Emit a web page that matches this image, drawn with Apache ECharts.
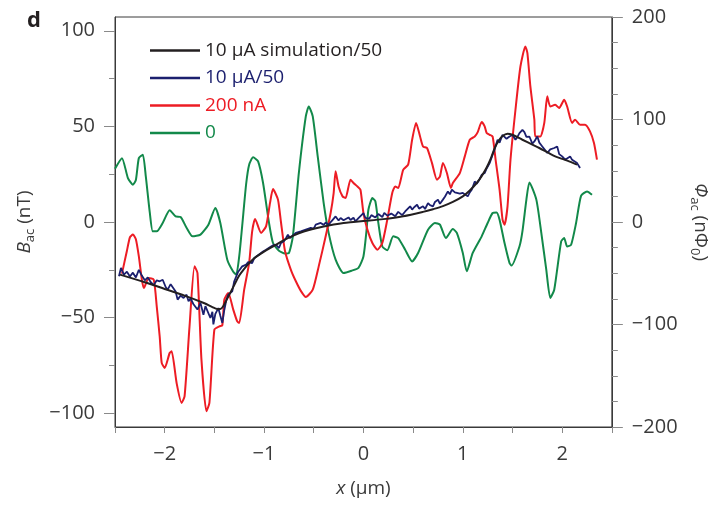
<!DOCTYPE html>
<html><head><meta charset="utf-8">
<script src="https://cdn.jsdelivr.net/npm/echarts@6/dist/echarts.min.js"></script>
<style>html,body{margin:0;padding:0;background:#fff}#c{width:718px;height:506px}</style>
</head><body><div id="c"></div>
<script>
// ---- data (x in µm, B in nT) ----
const seriesNames = ['10 μA simulation/50', '10 μA/50', '200 nA', '0'];
const xTicks = [-2, -1, 0, 1, 2];
const leftTicks = [-100, -50, 0, 50, 100];
const rightTicks = [-200, -100, 0, 100, 200];

const simulation = [[-2.45,-27.5],[-2.2,-31.5],[-2.0,-35],[-1.8,-38.5],[-1.6,-42.5],[-1.52,-44.5],[-1.47,-45.5],[-1.44,-45.5],[-1.41,-44],[-1.38,-41],[-1.35,-38],[-1.30,-33],[-1.25,-28],[-1.2,-24.5],[-1.15,-21.5],[-1.1,-19],[-1.0,-15.5],[-0.9,-12.5],[-0.8,-9.5],[-0.7,-7],[-0.6,-5],[-0.5,-3.5],[-0.4,-2.3],[-0.3,-1.3],[-0.2,-0.5],[-0.1,0],[0,0.5],[0.2,1.5],[0.4,3],[0.6,5.3],[0.7,6.7],[0.8,8.3],[0.9,10.5],[1.0,13.4],[1.07,16.5],[1.14,20.4],[1.19,24],[1.24,28.5],[1.28,33],[1.32,38.5],[1.36,42.5],[1.40,45],[1.45,46.2],[1.50,45.6],[1.60,43],[1.70,40.5],[1.77,38.7],[1.85,36.5],[1.93,34.3],[2.0,33],[2.07,31.7],[2.15,30]];

const measured10uA = [[-2.46,-28.4],[-2.44,-24],[-2.41,-27.5],[-2.38,-26],[-2.35,-28.5],[-2.32,-26.5],[-2.29,-29],[-2.26,-25],[-2.23,-28],[-2.20,-30.5],[-2.17,-29],[-2.14,-31.5],[-2.11,-33],[-2.08,-30.5],[-2.05,-31],[-2.02,-30.2],[-1.99,-34],[-1.97,-35.4],[-1.94,-32.5],[-1.92,-31.9],[-1.89,-36.3],[-1.87,-40.6],[-1.84,-38.5],[-1.81,-39.7],[-1.78,-38],[-1.76,-41.5],[-1.74,-40],[-1.71,-43],[-1.69,-44],[-1.67,-45.8],[-1.64,-42.3],[-1.61,-48.5],[-1.59,-44],[-1.57,-45],[-1.54,-50.2],[-1.52,-47],[-1.51,-53.5],[-1.49,-48],[-1.46,-45],[-1.44,-49],[-1.42,-52.8],[-1.40,-46],[-1.38,-41],[-1.36,-38],[-1.34,-39],[-1.32,-36.3],[-1.30,-31],[-1.28,-30],[-1.26,-26],[-1.24,-25],[-1.22,-23.2],[-1.20,-23.5],[-1.18,-22.3],[-1.16,-21],[-1.14,-20.6],[-1.12,-21.5],[-1.10,-19],[-1.08,-18],[-1.05,-17],[-1.03,-17.5],[-1.01,-15.4],[-0.98,-14.5],[-0.96,-15.5],[-0.93,-12.8],[-0.90,-11.9],[-0.87,-12.5],[-0.85,-13.6],[-0.83,-11],[-0.80,-10],[-0.78,-8.5],[-0.76,-6.6],[-0.74,-8.4],[-0.71,-7],[-0.68,-5.7],[-0.66,-6.2],[-0.63,-4.9],[-0.61,-5.5],[-0.58,-4.0],[-0.56,-4.6],[-0.53,-3.1],[-0.50,-3.5],[-0.48,-1.4],[-0.46,-2.2],[-0.43,-0.5],[-0.40,-1.5],[-0.38,-0.3],[-0.35,-1.4],[-0.32,0.5],[-0.30,1.5],[-0.28,2.9],[-0.25,0.8],[-0.23,2.1],[-0.20,0.9],[-0.18,1.2],[-0.15,2.4],[-0.13,1.0],[-0.10,2.2],[-0.08,0.3],[-0.05,2.0],[-0.03,1.5],[0.00,4.7],[0.02,2.1],[0.04,2.9],[0.06,1.8],[0.08,3.6],[0.10,3.8],[0.12,2.4],[0.15,4.2],[0.17,3.8],[0.19,2.6],[0.21,4.8],[0.24,3.3],[0.26,2.5],[0.28,4.4],[0.30,3.8],[0.32,3.0],[0.35,5.3],[0.37,4.7],[0.39,3.6],[0.42,5.5],[0.44,4.6],[0.47,8.2],[0.49,6.5],[0.51,7.7],[0.54,9.0],[0.56,7.0],[0.58,7.6],[0.60,8.2],[0.62,6.8],[0.65,9.9],[0.67,8.8],[0.70,8.2],[0.72,10.5],[0.75,11.7],[0.77,9.5],[0.80,11.7],[0.82,13.2],[0.85,16.0],[0.87,14.5],[0.89,16.9],[0.92,15.5],[0.94,16.0],[0.97,14.8],[1.00,15.2],[1.02,14.5],[1.05,13.4],[1.07,15.5],[1.09,16.9],[1.12,21.2],[1.14,20.0],[1.17,22.5],[1.19,24.7],[1.22,25.6],[1.24,28],[1.27,30.8],[1.30,35.2],[1.32,38],[1.35,43],[1.37,41.5],[1.40,45.6],[1.42,46.5],[1.44,43.5],[1.47,44.7],[1.50,45.5],[1.53,43],[1.55,44.5],[1.57,46.5],[1.60,48.2],[1.62,47],[1.64,44.5],[1.67,44.7],[1.70,41],[1.72,42.1],[1.75,44.7],[1.77,41.5],[1.80,39.5],[1.83,37.5],[1.85,36.1],[1.88,38],[1.90,37],[1.92,38.7],[1.95,39.5],[1.97,35.5],[2.00,34.3],[2.03,32.6],[2.05,33.5],[2.08,34.3],[2.10,32.5],[2.12,33.5],[2.15,30.8],[2.18,28.2]];

const measured200nA = [[-2.43,-27],[-2.38,-15],[-2.35,-8],[-2.32,-6.6],[-2.29,-9],[-2.26,-18],[-2.23,-30],[-2.21,-34.5],[-2.16,-29.3],[-2.11,-30.2],[-2.08,-44.1],[-2.05,-60],[-2.03,-73.7],[-2.00,-76.3],[-1.95,-68.5],[-1.93,-67.6],[-1.88,-84.2],[-1.83,-94.6],[-1.80,-91.2],[-1.75,-54.6],[-1.70,-23.2],[-1.67,-26.7],[-1.63,-72],[-1.58,-99],[-1.55,-94.6],[-1.50,-56.3],[-1.45,-54.6],[-1.42,-54],[-1.40,-40.6],[-1.36,-37.1],[-1.31,-45.8],[-1.27,-52],[-1.25,-52.8],[-1.20,-35.4],[-1.15,-21.4],[-1.12,-5],[-1.09,1.6],[-1.03,-5.7],[-0.98,-2.3],[-0.94,10],[-0.91,17.2],[-0.86,11.7],[-0.83,0],[-0.79,-15],[-0.73,-25],[-0.68,-31],[-0.63,-36],[-0.58,-39.2],[-0.51,-35.4],[-0.45,-23.2],[-0.38,-7.5],[-0.33,4.7],[-0.30,15],[-0.28,26.5],[-0.25,18.6],[-0.21,13.4],[-0.18,12.5],[-0.13,22.1],[-0.10,20.4],[-0.06,18.6],[-0.03,16.9],[0.0,4.7],[0.04,-4.0],[0.09,-11],[0.14,-14.5],[0.19,-11],[0.24,1.2],[0.29,15.2],[0.32,18.6],[0.35,17.8],[0.40,27.3],[0.45,30],[0.49,43],[0.53,51.8],[0.57,44.7],[0.60,39.5],[0.64,38.7],[0.69,30.8],[0.74,22.1],[0.77,23.8],[0.80,30.8],[0.84,25.6],[0.88,17.8],[0.90,20.4],[0.97,25.6],[1.02,34.3],[1.07,43],[1.12,44.7],[1.15,47],[1.19,52.3],[1.22,50],[1.24,46.5],[1.27,45.6],[1.30,44.7],[1.33,32.6],[1.37,16.9],[1.40,1.2],[1.42,-1.4],[1.45,8.2],[1.48,32.6],[1.53,58.7],[1.58,81.3],[1.63,91.8],[1.65,88.3],[1.68,70.9],[1.72,53.5],[1.73,44.7],[1.78,44.7],[1.82,51.8],[1.85,65.7],[1.88,60.4],[1.93,61.3],[1.97,59.6],[2.02,63.9],[2.05,60.4],[2.10,51.8],[2.13,53.5],[2.18,50.9],[2.23,50.9],[2.28,47.4],[2.32,41.3],[2.35,32.6]];

const measured0 = [[-2.50,27.9],[-2.43,33.4],[-2.37,23],[-2.32,19.5],[-2.29,22],[-2.26,33.4],[-2.22,35.2],[-2.19,23.8],[-2.15,5],[-2.12,-4.9],[-2.08,-4.9],[-2.02,-0.5],[-1.95,6.1],[-1.89,2.9],[-1.84,2.6],[-1.78,-3],[-1.72,-7.5],[-1.64,-6.6],[-1.56,-1.4],[-1.49,7.3],[-1.44,-0.5],[-1.37,-19.7],[-1.31,-26],[-1.28,-27.5],[-1.25,-18],[-1.22,-2],[-1.18,20],[-1.15,30],[-1.11,33.8],[-1.06,31.7],[-1.01,20.4],[-0.95,-0.5],[-0.91,-11],[-0.85,-15],[-0.79,-16.5],[-0.75,-16.2],[-0.71,-7.5],[-0.65,25.6],[-0.58,55.2],[-0.55,60.4],[-0.51,55.2],[-0.46,34.3],[-0.40,9.9],[-0.35,-5.7],[-0.28,-19.7],[-0.20,-26.7],[-0.12,-25.5],[-0.05,-24],[0.0,-18],[0.03,-5],[0.05,6.4],[0.09,12.5],[0.12,10.8],[0.15,-0.5],[0.19,-12.8],[0.24,-14.8],[0.30,-7.5],[0.35,-8.4],[0.42,-14.5],[0.49,-20.6],[0.55,-16.2],[0.65,-4.0],[0.72,-0.5],[0.77,-1.4],[0.83,-8.4],[0.90,-3.7],[0.94,-5.7],[1.0,-16.2],[1.04,-25.8],[1.10,-16.2],[1.19,-7.5],[1.25,-0.5],[1.30,4.7],[1.34,5],[1.37,1.2],[1.42,-11],[1.47,-21.4],[1.49,-22.8],[1.57,-12.8],[1.60,-4.9],[1.64,11.7],[1.67,20.7],[1.74,11.7],[1.79,-5.7],[1.84,-24.9],[1.88,-39.7],[1.92,-35.4],[1.99,-10.1],[2.02,-8.4],[2.05,-12.8],[2.09,-11.9],[2.14,-0.5],[2.19,13.7],[2.25,16],[2.30,14.3]];

// ---- chart ----
const FONT = 'Open Sans';
const TXT = '#3a3a3a';
const AX = '#3a3a3a';
const TICK = '#8a8a8a';
const colors = {sim:'#231f20', blue:'#1b1f6e', red:'#ed1c24', green:'#12894a'};
const minus = v => v < 0 ? '\u2212' + Math.abs(v) : String(v);
const minorLeft = [-75, -25, 25, 75];
const minorRight = [-175,-150,-125,-75,-50,-25,25,50,75,125,150,175];
const xMinor = [-2.5,-2,-1.5,-1,-0.5,0,0.5,1,1.5,2,2.5];

const chart = echarts.init(document.getElementById('c'), null, {renderer:'canvas'});
const labelStyle = {color: TXT, fontSize: 20, fontFamily: FONT};
chart.setOption({
  animation: false,
  backgroundColor: '#fff',
  grid: {left: 115, right: 103, top: 17, bottom: 79, show: true, borderColor: AX, borderWidth: 1},
  legend: {
    orient: 'vertical', left: 150, top: 40, padding: 0, icon: 'rect', itemWidth: 50, itemHeight: 2.5, itemGap: 6.5,
    textStyle: {fontSize: 19, fontFamily: FONT, lineHeight: 21},
    data: [
      {name: seriesNames[0], textStyle: {color: colors.sim}},
      {name: seriesNames[1], textStyle: {color: colors.blue}},
      {name: seriesNames[2], textStyle: {color: colors.red}},
      {name: seriesNames[3], textStyle: {color: colors.green}}
    ]
  },
  xAxis: {
    type: 'value', min: -2.5, max: 2.5,
    axisLine: {show: true, onZero: false, lineStyle: {color: AX, width: 1}},
    axisTick: {show: true, customValues: xMinor, length: 6, lineStyle: {color: TICK}},
    axisLabel: {customValues: xTicks, margin: 17, formatter: minus, ...labelStyle},
    splitLine: {show: false},
    name: '{i|x}{n| (μm)}', nameLocation: 'middle', nameGap: 52,
    nameTextStyle: {rich: {i: {fontStyle: 'italic', fontSize: 19, fontFamily: FONT, color: TXT}, n: {fontSize: 19, fontFamily: FONT, color: TXT}}}
  },
  yAxis: [
    {
      type: 'value', position: 'left', min: -107.2, max: 107.2,
      axisLine: {show: true, onZero: false, lineStyle: {color: AX}},
      axisTick: {show: true, customValues: leftTicks, length: 11, lineStyle: {color: TICK}},
      axisLabel: {customValues: leftTicks, margin: 20, formatter: minus, ...labelStyle},
      splitLine: {show: false},
      name: '{b|B}{s|ac}{n| (nT)}', nameLocation: 'middle', nameRotate: 90, nameGap: 78,
      nameTextStyle: {rich: {
        b: {fontStyle: 'italic', fontSize: 19, fontFamily: FONT, color: TXT, lineHeight: 24},
        s: {fontSize: 13, fontFamily: FONT, color: TXT, lineHeight: 14, verticalAlign: 'bottom'},
        n: {fontSize: 19, fontFamily: FONT, color: TXT, lineHeight: 24}}}
    },
    {
      type: 'value', position: 'right', min: -200, max: 200,
      axisLine: {show: true, onZero: false, lineStyle: {color: AX}},
      axisTick: {show: true, customValues: rightTicks, length: 11, lineStyle: {color: TICK}},
      axisLabel: {customValues: rightTicks, margin: 20, formatter: minus, ...labelStyle},
      splitLine: {show: false},
      name: '{p|Φ}{s|ac}{n| (nΦ}{s|0}{n|)}', nameLocation: 'middle', nameRotate: -90, nameGap: 74,
      nameTextStyle: {rich: {
        p: {fontStyle: 'italic', fontSize: 19, fontFamily: FONT, color: TXT, lineHeight: 24},
        s: {fontSize: 13, fontFamily: FONT, color: TXT, lineHeight: 14, verticalAlign: 'bottom'},
        n: {fontSize: 19, fontFamily: FONT, color: TXT, lineHeight: 24}}}
    },
    {
      type: 'value', position: 'left', min: -107.2, max: 107.2,
      axisLine: {show: false, onZero: false},
      axisTick: {show: true, customValues: minorLeft, length: 6, lineStyle: {color: TICK}},
      axisLabel: {show: false}, splitLine: {show: false}
    },
    {
      type: 'value', position: 'right', min: -200, max: 200,
      axisLine: {show: false, onZero: false},
      axisTick: {show: true, customValues: minorRight, length: 6, lineStyle: {color: TICK}},
      axisLabel: {show: false}, splitLine: {show: false}
    }
  ],
  graphic: [
    {type: 'text', left: 27, top: 10, style: {text: 'd', font: 'bold 22px "Open Sans"', fill: '#231f20'}}
  ],
  series: [
    {name: seriesNames[3], type: 'line', data: measured0, symbol: 'none', smooth: 0.2, lineStyle: {color: colors.green, width: 2}, itemStyle: {color: colors.green}, z: 2},
    {name: seriesNames[2], type: 'line', data: measured200nA, symbol: 'none', smooth: 0.2, lineStyle: {color: colors.red, width: 2}, itemStyle: {color: colors.red}, z: 3},
    {name: seriesNames[1], type: 'line', data: measured10uA, symbol: 'none', lineStyle: {color: colors.blue, width: 1.8}, itemStyle: {color: colors.blue}, z: 4},
    {name: seriesNames[0], type: 'line', data: simulation, symbol: 'none', smooth: 0.3, lineStyle: {color: colors.sim, width: 2}, itemStyle: {color: colors.sim}, z: 5}
  ]
});
</script></body></html>
